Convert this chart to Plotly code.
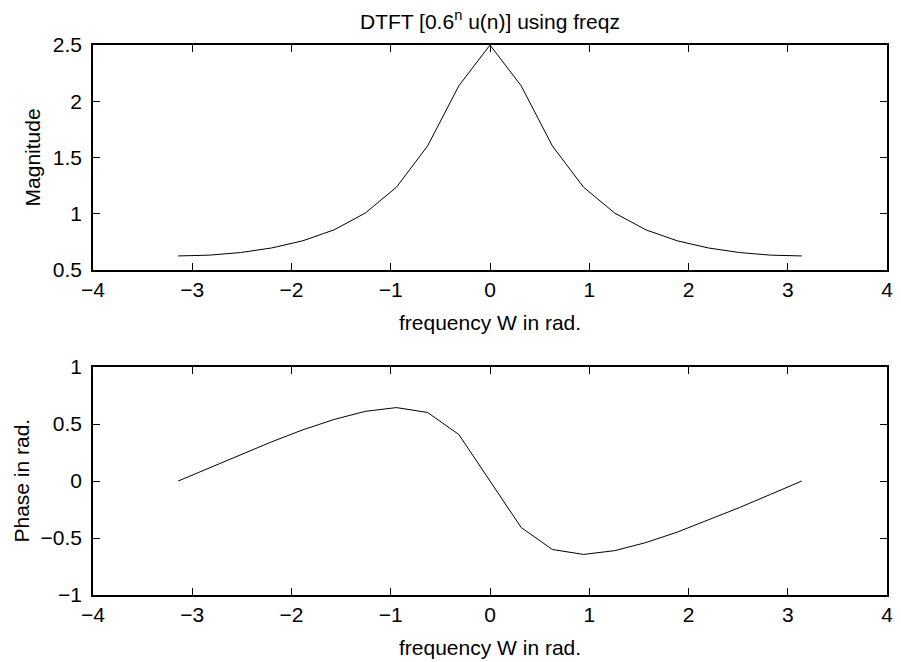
import plotly.graph_objects as go
from plotly.subplots import make_subplots

# frequency samples from -pi to pi (21 points, as freqz gives)
w = [-3.1416, -2.8274, -2.5133, -2.1991, -1.8850, -1.5708, -1.2566, -0.9425,
     -0.6283, -0.3142, 0.0, 0.3142, 0.6283, 0.9425, 1.2566, 1.5708,
     1.8850, 2.1991, 2.5133, 2.8274, 3.1416]

# magnitude
magnitude = [0.625, 0.632, 0.655, 0.696, 0.760, 0.857, 1.006, 1.236, 1.603, 2.137, 2.5,
             2.137, 1.603, 1.236, 1.006, 0.857, 0.760, 0.696, 0.655, 0.632, 0.625]

# phase
phase = [0.0, 0.117, 0.233, 0.344, 0.449, 0.540, 0.611, 0.644, 0.601, 0.408, 0.0,
         -0.408, -0.601, -0.644, -0.611, -0.540, -0.449, -0.344, -0.233, -0.117, 0.0]

x_ticks = [-4, -3, -2, -1, 0, 1, 2, 3, 4]
mag_ticks = [0.5, 1, 1.5, 2, 2.5]
phase_ticks = [-1, -0.5, 0, 0.5, 1]

FONT = "Liberation Sans, Arial, Helvetica, sans-serif"
FS = 21
# the page body has an 8px margin, so the figure sits at (8, 8) in the window
OFF = 8
W, H = 901 - OFF, 662 - OFF
L, R, T, B = 93 - OFF, 8, 45 - OFF, 67

fig = make_subplots(rows=2, cols=1)
fig.add_trace(go.Scatter(x=w, y=magnitude, mode="lines",
                         line=dict(color="black", width=1)), row=1, col=1)
fig.add_trace(go.Scatter(x=w, y=phase, mode="lines",
                         line=dict(color="black", width=1)), row=2, col=1)

ph = H - T - B
axis_style = dict(showline=True, linecolor="black", linewidth=1.5, mirror="ticks",
                  ticks="inside", ticklen=7, tickwidth=1, tickcolor="black",
                  showgrid=False, zeroline=False,
                  tickfont=dict(family=FONT, size=FS, color="black"))

fig.update_xaxes(range=[-4, 4], tickvals=x_ticks, ticklabelstandoff=0, **axis_style)
fig.update_yaxes(ticklabelstandoff=5, **axis_style)
fig.update_yaxes(range=[0.5, 2.5], tickvals=mag_ticks, row=1, col=1)
fig.update_yaxes(range=[-1, 1], tickvals=phase_ticks, row=2, col=1)

fig.update_layout(
    width=W, height=H,
    margin=dict(l=L, r=R, t=T, b=B),
    plot_bgcolor="white", paper_bgcolor="white",
    showlegend=False,
    yaxis=dict(domain=[(595 - 270) / ph, 1]),
    yaxis2=dict(domain=[0, (595 - 367) / ph]),
    font=dict(family=FONT, size=FS, color="black"),
)


# positions below are window pixels from the reference
def px_x(p):
    return (p - 93) / (W - L - R)


def px_y(p):
    return (595 - p) / ph


labels = [
    ("DTFT [0.6<sup>n</sup> u(n)] using freqz", 493, 20, 0),
    ("frequency W in rad.", 493, 322, 0),
    ("frequency W in rad.", 493, 647, 0),
    ("Magnitude", 32, 157, -90),
    ("Phase in rad.", 20, 481, -90),
]
for text, x, y, ang in labels:
    fig.add_annotation(text=text, x=px_x(x), y=px_y(y), xref="paper", yref="paper",
                       xanchor="center", yanchor="middle", showarrow=False,
                       textangle=ang, font=dict(family=FONT, size=FS, color="black"))

fig.write_html("out.html")
